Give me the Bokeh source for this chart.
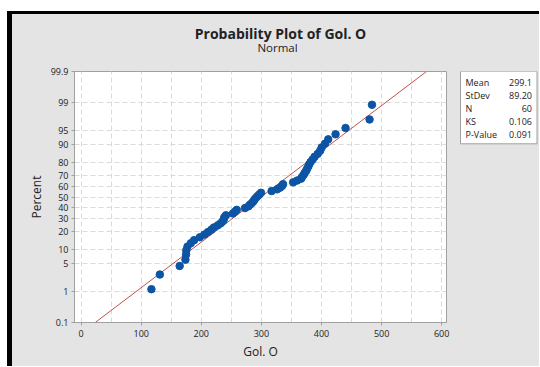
from statistics import NormalDist
from bokeh.plotting import figure
from bokeh.layouts import row, column
from bokeh.models import Range1d, FixedTicker, ColumnDataSource
from bokeh.embed import file_html
from bokeh.resources import INLINE
from bokeh.core.properties import value

# ---- data ----
gol_o = [117, 131, 164, 173.6, 174.6, 175, 177, 182.5, 188, 197.5,
         205, 211, 216.7, 221, 227.5, 232.5, 236, 237.6, 238.4, 241,
         252.6, 256, 259, 272.7, 278.5, 281, 284.3, 286.8, 288.5, 291,
         293.5, 296.5, 299.3, 317, 326, 331, 334.4, 336, 352.8, 359.4,
         366, 367.8, 370.3, 372, 374.5, 376, 378, 379.5, 382, 385.3,
         388.6, 393.7, 397.8, 400.3, 406, 411.2, 423.4, 440, 480, 484]
title_lines = ["Probability Plot of Gol. O", "Normal"]
stat_names = ["Mean", "StDev", "N", "KS", "P-Value"]
stat_values = ["299.1", "89.20", "60", "0.106", "0.091"]
fit_mean = 299.1
fit_sd = 89.20
pct_ticks = [0.1, 1, 5, 10, 20, 30, 40, 50, 60, 70, 80, 90, 95, 99, 99.9]
pct_labels = ["0.1", "1", "5", "10", "20", "30", "40", "50", "60", "70", "80", "90", "95", "99", "99.9"]
x_ticks = [0, 100, 200, 300, 400, 500, 600]
x_grid = [0, 50, 100, 150, 200, 250, 300, 350, 400, 450, 500, 550, 600]

nd = NormalDist()
n = len(gol_o)
xs = sorted(gol_o)
zs = [nd.inv_cdf((i - 0.3) / (n + 0.4)) for i in range(1, n + 1)]
z_lo = nd.inv_cdf(pct_ticks[0] / 100)
z_hi = nd.inv_cdf(pct_ticks[-1] / 100)
z_tick = [nd.inv_cdf(t / 100) for t in pct_ticks]

FONT = "Open Sans"
BG = "#e4e4e4"
GRID = "#dadada"
TXT = "#222222"
TW, TH = 527, 50      # title strip
PW, PH = 440, 302     # main plot
QW = TW - PW          # stats strip


def blank(w, h):
    f = figure(frame_width=w, frame_height=h, output_backend="svg", toolbar_location=None,
               x_range=Range1d(0, w), y_range=Range1d(h, 0),
               x_axis_location=None, y_axis_location=None,
               min_border=0, min_border_left=0, min_border_right=0,
               min_border_top=0, min_border_bottom=0)
    f.grid.visible = False
    f.title.visible = False
    f.outline_line_color = None
    f.background_fill_color = BG
    f.border_fill_color = BG
    return f


# ---- title strip ----
t = blank(TW, TH)
t.text(x=[268], y=[19], text=title_lines[:1], text_align="center", text_baseline="middle",
       text_font=value(FONT), text_font_size="14px", text_font_style="bold", text_color=TXT)
t.text(x=[265], y=[33], text=title_lines[1:], text_align="center", text_baseline="middle",
       text_font=value(FONT), text_font_size="11.5px", text_color=TXT)

# ---- main probability plot ----
p = figure(width=PW, height=PH, output_backend="svg", toolbar_location=None,
           x_range=Range1d(-11, 608), y_range=Range1d(z_lo, z_hi),
           min_border_left=62, min_border_right=6, min_border_top=7, min_border_bottom=44)
p.title.visible = False
p.background_fill_color = "white"
p.border_fill_color = BG
p.outline_line_color = "#a0a0a0"
p.outline_line_width = 1

p.xaxis.ticker = FixedTicker(ticks=x_ticks)
p.yaxis.ticker = FixedTicker(ticks=z_tick)
p.yaxis.major_label_overrides = {z: lab for z, lab in zip(z_tick, pct_labels)}
for ax in (p.xaxis[0], p.yaxis[0]):
    ax.axis_line_color = "#a0a0a0"
    ax.major_tick_line_color = "#a0a0a0"
    ax.major_tick_out = 3
    ax.major_tick_in = 0
    ax.minor_tick_line_color = None
    ax.major_label_text_font = FONT
    ax.major_label_text_font_size = "9px"
    ax.major_label_text_color = TXT
    ax.axis_label_text_font = FONT
    ax.axis_label_text_font_size = "12px"
    ax.axis_label_text_font_style = "normal"
    ax.axis_label_text_color = TXT
p.xaxis.axis_label = "Gol. O"
p.yaxis.axis_label = "Percent"
p.xaxis.major_label_standoff = 4
p.xaxis.axis_label_standoff = 3
p.yaxis.major_label_standoff = 3
p.yaxis.axis_label_standoff = 3

p.xgrid.ticker = FixedTicker(ticks=x_grid)
p.ygrid.ticker = FixedTicker(ticks=z_tick)
for g in (p.xgrid[0], p.ygrid[0]):
    g.grid_line_color = GRID
    g.grid_line_dash = "5 3"
    g.grid_line_width = 1

fit_z = [z_lo, z_hi]
fit_x = [fit_mean + fit_sd * z for z in fit_z]
p.line(fit_x, fit_z, line_color="#c0504d", line_width=1)

src = ColumnDataSource(dict(x=xs, z=zs))
p.scatter("x", "z", source=src, size=7.5, fill_color="#0c55a4", line_color="#0c55a4")

# ---- stats strip ----
q = blank(QW, PH)
q.quad(left=[8], right=[84.5], top=[0], bottom=[72.3],
       fill_color="white", line_color="#a0a0a0", line_width=1)
row_y = [11 + 13 * k for k in range(len(stat_names))]
q.text(x=[13] * len(stat_names), y=row_y, text=stat_names,
       text_align="left", text_baseline="middle", text_font=value(FONT),
       text_font_size="9px", text_color=TXT)
q.text(x=[79.5] * len(stat_values), y=row_y, text=stat_values,
       text_align="right", text_baseline="middle", text_font=value(FONT),
       text_font_size="9px", text_color=TXT)

layout = column(t, row(p, q, spacing=0, styles={"background-color": BG}), spacing=0,
                styles={"margin-left": "7px", "margin-top": "11px", "background-color": BG,
                        "border-left": "5px solid #000", "border-top": "3px solid #000"})

open("out.html", "w").write(file_html(layout, INLINE))
